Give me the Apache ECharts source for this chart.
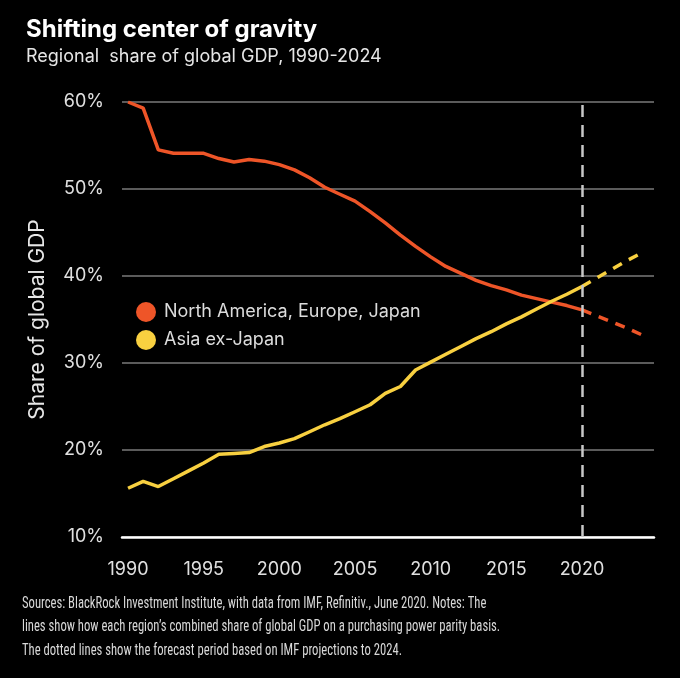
<!DOCTYPE html>
<html>
<head>
<meta charset="utf-8">
<script src="https://cdn.jsdelivr.net/npm/echarts@6/dist/echarts.min.js"></script>
<style>
html,body{margin:0;padding:0;background:#000;}
#chart{width:680px;height:678px;}
</style>
</head>
<body>
<div id="chart"></div>
<script>
const years = [1990,1991,1992,1993,1994,1995,1996,1997,1998,1999,2000,2001,2002,2003,2004,2005,2006,2007,2008,2009,2010,2011,2012,2013,2014,2015,2016,2017,2018,2019,2020];
const northHist = [60.0,59.3,54.5,54.1,54.1,54.1,53.5,53.1,53.4,53.2,52.8,52.2,51.3,50.2,49.4,48.6,47.4,46.1,44.7,43.4,42.2,41.1,40.3,39.5,38.9,38.4,37.8,37.4,37.0,36.6,36.1];
const asiaHist = [15.6,16.4,15.8,16.7,17.6,18.5,19.5,19.6,19.7,20.4,20.8,21.3,22.1,22.9,23.6,24.4,25.2,26.5,27.3,29.2,30.1,31.0,31.9,32.8,33.6,34.5,35.3,36.2,37.1,37.9,38.8];
const forecastYears = [2020,2021,2022,2023,2024];
const northForecast = [36.1,35.4,34.7,34.0,33.2];
const asiaForecast = [38.8,39.8,40.8,41.8,42.7];
const xTicks = [1990,1995,2000,2005,2010,2015,2020];
const seriesNames = ['North America, Europe, Japan','Asia ex-Japan'];
const forecastStart = 2020;

const ORANGE = '#EE5528';
const YELLOW = '#F8D040';
const zip = (xs, ys) => xs.map((x,i)=>[x, ys[i]]);

const chart = echarts.init(document.getElementById('chart'));
const font = 'Inter, "Open Sans", sans-serif';
chart.setOption({
  backgroundColor:'#000',
  animation:false,
  title:[
    {text:'Shifting center of gravity', left:21, top:13,
     textStyle:{color:'#fff', fontSize:24, fontWeight:'bold', fontFamily:font}},
    {text:'Regional  share of global GDP, 1990-2024', left:21, top:43,
     textStyle:{color:'#e6e6e6', fontSize:18, fontWeight:'normal', fontFamily:font}}
  ],
  legend:{
    orient:'vertical', left:131, top:297, itemGap:8,
    icon:'circle', itemWidth:20, itemHeight:20,
    data:seriesNames,
    textStyle:{color:'#dcdcdc', fontSize:18, fontFamily:font, padding:[0,0,0,3]}
  },
  grid:{left:122, right:26, top:102, bottom:141},
  xAxis:{
    type:'value', min:1989.6, max:2024.76,
    axisLine:{show:true, lineStyle:{color:'#fff', width:2.5}},
    axisTick:{show:false},
    splitLine:{show:false},
    axisLabel:{customValues:xTicks, color:'#e0e0e0', fontSize:18, fontFamily:font, margin:24,
      formatter:v=>String(v)}
  },
  yAxis:{
    type:'value', min:10, max:60, interval:10,
    name:'Share of global GDP', nameLocation:'middle', nameGap:74, nameRotate:90,
    nameTextStyle:{color:'#e6e6e6', fontSize:21, fontFamily:font},
    axisLine:{show:false}, axisTick:{show:false},
    splitLine:{lineStyle:{color:'#7a7a7a', width:1.5}},
    axisLabel:{formatter:'{value}%', color:'#e0e0e0', fontSize:18, fontFamily:font, margin:18}
  },
  series:[
    {name:seriesNames[0], type:'line', data:zip(years,northHist), showSymbol:false, symbol:'circle',
     itemStyle:{color:ORANGE}, lineStyle:{color:ORANGE, width:3.5}, z:3,
     markLine:{silent:true, symbol:['none','none'], label:{show:false},
       lineStyle:{color:'#c8c8c8', type:[12,8], width:2.5},
       data:[{xAxis:forecastStart}]}},
    {name:seriesNames[1], type:'line', data:zip(years,asiaHist), showSymbol:false, symbol:'circle',
     itemStyle:{color:YELLOW}, lineStyle:{color:YELLOW, width:3.5}, z:4},
    {name:seriesNames[0], type:'line', data:zip(forecastYears,northForecast), showSymbol:false,
     itemStyle:{color:ORANGE}, lineStyle:{color:ORANGE, width:3.5, type:[10,8]}, z:3},
    {name:seriesNames[1], type:'line', data:zip(forecastYears,asiaForecast), showSymbol:false,
     itemStyle:{color:YELLOW}, lineStyle:{color:YELLOW, width:3.5, type:[10,8]}, z:4}
  ],
  graphic:[
    {type:'text', left:22, top:592, scaleX:0.79, style:{
      text:'Sources: BlackRock Investment Institute, with data from IMF, Refinitiv., June 2020. Notes: The\nlines show how each region\u2019s combined share of global GDP on a purchasing power parity basis.\nThe dotted lines show the forecast period based on IMF projections to 2024.',
      fill:'#d8d8d8', font:'16px "Liberation Sans Narrow", "Roboto Condensed", "Liberation Sans", sans-serif', lineHeight:23.5}}
  ]
});
</script>
</body>
</html>
